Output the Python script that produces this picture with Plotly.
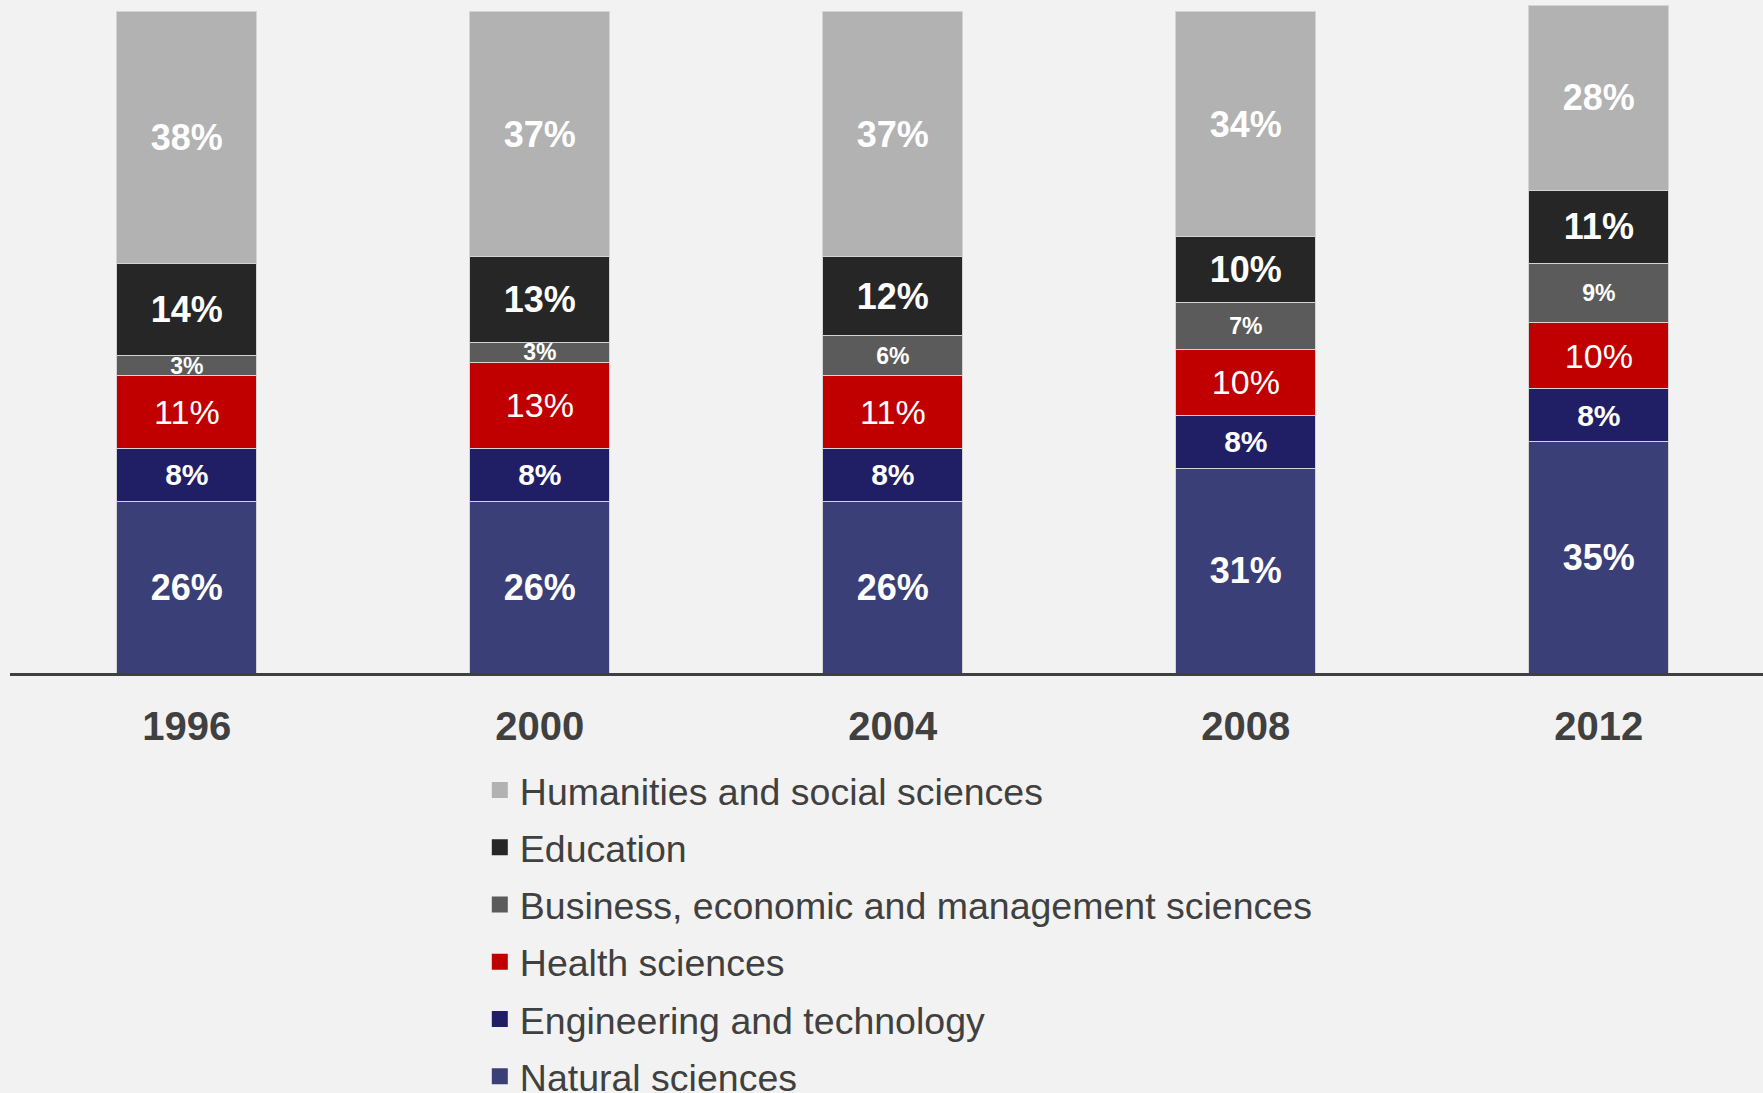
import plotly.graph_objects as go

# Survey years
years = ["1996", "2000", "2004", "2008", "2012"]

# Share of graduates by field (%), bottom of the stack first
natural_sciences = [26, 26, 26, 31, 35]
engineering_technology = [8, 8, 8, 8, 8]
health_sciences = [11, 13, 11, 10, 10]
business_economic_management = [3, 3, 6, 7, 9]
education = [14, 13, 12, 10, 11]
humanities_social = [38, 37, 37, 34, 28]

x_pos = list(range(len(years)))

series = [
    ("Natural sciences", natural_sciences, "#3B3F78", 36, "bold"),
    ("Engineering and technology", engineering_technology, "#201F66", 30, "bold"),
    ("Health sciences", health_sciences, "#C00000", 34, "normal"),
    ("Business, economic and management sciences", business_economic_management, "#5B5B5B", 23, "bold"),
    ("Education", education, "#262626", 36, "bold"),
    ("Humanities and social sciences", humanities_social, "#B2B2B2", 36, "bold"),
]

FONT = "Arial, Liberation Sans, sans-serif"

fig = go.Figure()
for name, vals, color, fsize, weight in series:
    fig.add_trace(go.Bar(
        x=x_pos,
        y=vals,
        name=name,
        showlegend=False,
        width=0.397,
        marker=dict(color=color, line=dict(color="#D4D4D4", width=1)),
        text=[f"{v}%" for v in vals],
        textposition="inside",
        insidetextanchor="middle",
        textangle=0,
        constraintext="none",
        textfont=dict(family=FONT, size=fsize, color="white", weight=weight),
        hoverinfo="skip",
    ))

# Square legend keys, listed top of the stack first
for name, vals, color, fsize, weight in reversed(series):
    fig.add_trace(go.Scatter(
        x=[None],
        y=[None],
        mode="markers",
        name=name,
        legendgroup=name,
        marker=dict(symbol="square", size=16, color=color),
        hoverinfo="skip",
    ))

fig.update_layout(
    width=1763,
    height=1093,
    barmode="stack",
    paper_bgcolor="#F2F2F2",
    plot_bgcolor="#F2F2F2",
    margin=dict(l=10, r=0, t=0, b=420, autoexpand=False),
    showlegend=True,
    legend=dict(
        traceorder="grouped",
        tracegroupgap=5.5,
        x=0.268,
        xanchor="left",
        y=-0.128,
        yanchor="top",
        font=dict(family=FONT, size=37.5, color="#404040"),
        bgcolor="rgba(0,0,0,0)",
        itemclick=False,
        itemdoubleclick=False,
    ),
    xaxis=dict(
        range=[-0.501, 4.465],
        tickvals=x_pos,
        ticktext=years,
        showgrid=False,
        zeroline=False,
        showline=True,
        linecolor="#404040",
        linewidth=3,
        ticks="",
        tickfont=dict(family=FONT, size=40, color="#404040", weight="bold"),
        ticklabelstandoff=16,
    ),
    yaxis=dict(
        range=[0, 101.8],
        visible=False,
        showgrid=False,
        zeroline=False,
    ),
)

fig.write_html("out.html")
